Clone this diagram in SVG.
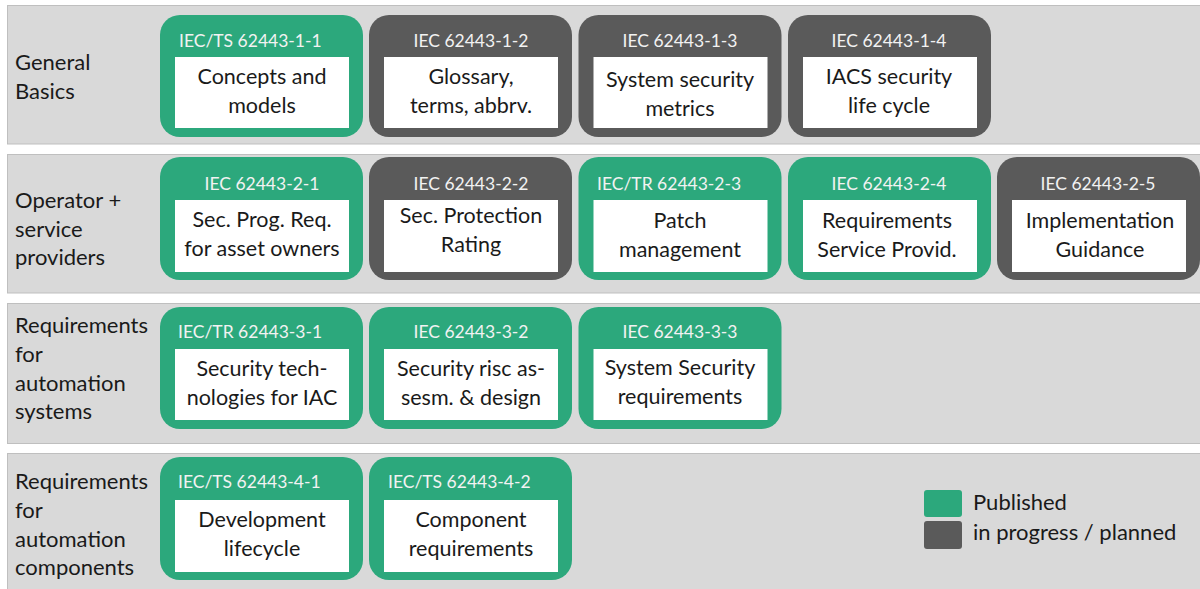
<svg xmlns="http://www.w3.org/2000/svg" width="1200" height="589" viewBox="0 0 1200 589">
  <style>
    .band { fill: #d9d9d9; stroke: #bfbfbf; stroke-width: 1; }
    .pub { fill: #2ca87c; }
    .plan { fill: #5a5a5a; }
    .inner { fill: #ffffff; }
    .title { font-family: Lato, "Open Sans", sans-serif; font-size: 17.5px; fill: #f2f2f2; }
    .mid { text-anchor: middle; }
    .body { font-family: Lato, "Open Sans", sans-serif; font-size: 21.5px; fill: #1a1a1a; text-anchor: middle; }
    .row { font-family: Lato, "Open Sans", sans-serif; font-size: 22px; fill: #1a1a1a; }
  </style>

  <rect width="1200" height="589" fill="#ffffff"/>

  <!-- horizontal bands -->
  <g id="bands">
    <rect class="band" x="7.5" y="5.5" width="1200" height="138.5"/>
    <rect class="band" x="7.5" y="154.5" width="1200" height="138.5"/>
    <rect class="band" x="7.5" y="303.5" width="1200" height="140"/>
    <rect class="band" x="7.5" y="453.5" width="1200" height="140"/>
  </g>

  <!-- band captions -->
  <g id="row-labels" class="row">
    <text x="15" y="70">General</text>
    <text x="15" y="99">Basics</text>
    <text x="15" y="208">Operator +</text>
    <text x="15" y="237">service</text>
    <text x="15" y="265">providers</text>
    <text x="15" y="333">Requirements</text>
    <text x="15" y="362">for</text>
    <text x="15" y="391">automation</text>
    <text x="15" y="419">systems</text>
    <text x="15" y="489">Requirements</text>
    <text x="15" y="518">for</text>
    <text x="15" y="547">automation</text>
    <text x="15" y="575">components</text>
  </g>

  <!-- Row 1: general basics -->
  <g id="n-1-1">
    <rect class="pub" x="160" y="15" width="203" height="122" rx="20"/>
    <rect class="inner" x="175" y="57" width="174" height="71"/>
    <text class="title" x="179" y="47">IEC/TS 62443-1-1</text>
    <text class="body" x="262" y="84">Concepts and</text>
    <text class="body" x="262" y="113">models</text>
  </g>
  <g id="n-1-2">
    <rect class="plan" x="369" y="15" width="203" height="122" rx="20"/>
    <rect class="inner" x="384" y="57" width="174" height="71"/>
    <text class="title mid" x="471" y="47">IEC 62443-1-2</text>
    <text class="body" x="471" y="84">Glossary,</text>
    <text class="body" x="471" y="113">terms, abbrv.</text>
  </g>
  <g id="n-1-3">
    <rect class="plan" x="578.5" y="15" width="203" height="122" rx="20"/>
    <rect class="inner" x="593.5" y="57" width="174" height="71"/>
    <text class="title mid" x="680" y="47">IEC 62443-1-3</text>
    <text class="body" x="680" y="87">System security</text>
    <text class="body" x="680" y="116">metrics</text>
  </g>
  <g id="n-1-4">
    <rect class="plan" x="788" y="15" width="203" height="122" rx="20"/>
    <rect class="inner" x="803" y="57" width="174" height="71"/>
    <text class="title mid" x="889" y="47">IEC 62443-1-4</text>
    <text class="body" x="889" y="84">IACS security</text>
    <text class="body" x="889" y="113">life cycle</text>
  </g>

  <!-- Row 2: operator + service providers -->
  <g id="n-2-1">
    <rect class="pub" x="160" y="157" width="203" height="123" rx="20"/>
    <rect class="inner" x="175" y="200" width="174" height="72"/>
    <text class="title mid" x="262" y="190">IEC 62443-2-1</text>
    <text class="body" x="262" y="227">Sec. Prog. Req.</text>
    <text class="body" x="262" y="256">for asset owners</text>
  </g>
  <g id="n-2-2">
    <rect class="plan" x="369" y="157" width="203" height="123" rx="20"/>
    <rect class="inner" x="384" y="200" width="174" height="72"/>
    <text class="title mid" x="471" y="190">IEC 62443-2-2</text>
    <text class="body" x="471" y="223">Sec. Protection</text>
    <text class="body" x="471" y="252">Rating</text>
  </g>
  <g id="n-2-3">
    <rect class="pub" x="578.5" y="157" width="203" height="123" rx="20"/>
    <rect class="inner" x="593.5" y="200" width="174" height="72"/>
    <text class="title" x="597" y="190">IEC/TR 62443-2-3</text>
    <text class="body" x="680" y="228">Patch</text>
    <text class="body" x="680" y="257">management</text>
  </g>
  <g id="n-2-4">
    <rect class="pub" x="788" y="157" width="203" height="123" rx="20"/>
    <rect class="inner" x="803" y="200" width="174" height="72"/>
    <text class="title mid" x="889" y="190">IEC 62443-2-4</text>
    <text class="body" x="887" y="228">Requirements</text>
    <text class="body" x="887" y="257">Service Provid.</text>
  </g>
  <g id="n-2-5">
    <rect class="plan" x="997" y="157" width="203" height="123" rx="20"/>
    <rect class="inner" x="1012" y="200" width="174" height="72"/>
    <text class="title mid" x="1098" y="190">IEC 62443-2-5</text>
    <text class="body" x="1100" y="228">Implementation</text>
    <text class="body" x="1100" y="257">Guidance</text>
  </g>

  <!-- Row 3: requirements for automation systems -->
  <g id="n-3-1">
    <rect class="pub" x="160" y="307" width="203" height="122" rx="20"/>
    <rect class="inner" x="175" y="349" width="174" height="71"/>
    <text class="title" x="178" y="338">IEC/TR 62443-3-1</text>
    <text class="body" x="262" y="376">Security tech-</text>
    <text class="body" x="262" y="405">nologies for IAC</text>
  </g>
  <g id="n-3-2">
    <rect class="pub" x="369" y="307" width="203" height="122" rx="20"/>
    <rect class="inner" x="384" y="349" width="174" height="71"/>
    <text class="title mid" x="471" y="338">IEC 62443-3-2</text>
    <text class="body" x="471" y="376">Security risc as-</text>
    <text class="body" x="471" y="405">sesm. &amp; design</text>
  </g>
  <g id="n-3-3">
    <rect class="pub" x="578.5" y="307" width="203" height="122" rx="20"/>
    <rect class="inner" x="593.5" y="349" width="174" height="71"/>
    <text class="title mid" x="680" y="338">IEC 62443-3-3</text>
    <text class="body" x="680" y="375">System Security</text>
    <text class="body" x="680" y="404">requirements</text>
  </g>

  <!-- Row 4: requirements for automation components -->
  <g id="n-4-1">
    <rect class="pub" x="160" y="457" width="203" height="123" rx="20"/>
    <rect class="inner" x="175" y="500" width="174" height="72"/>
    <text class="title" x="178" y="488">IEC/TS 62443-4-1</text>
    <text class="body" x="262" y="527">Development</text>
    <text class="body" x="262" y="556">lifecycle</text>
  </g>
  <g id="n-4-2">
    <rect class="pub" x="369" y="457" width="203" height="123" rx="20"/>
    <rect class="inner" x="384" y="500" width="174" height="72"/>
    <text class="title" x="388" y="488">IEC/TS 62443-4-2</text>
    <text class="body" x="471" y="527">Component</text>
    <text class="body" x="471" y="556">requirements</text>
  </g>

  <!-- legend -->
  <g id="legend">
    <rect class="pub" x="924" y="490" width="38" height="27" rx="3"/>
    <rect class="plan" x="924" y="521" width="38" height="28" rx="3"/>
    <text class="row" x="973" y="510">Published</text>
    <text class="row" x="973" y="540">in progress / planned</text>
  </g>

  <g id="connectors"/>
</svg>
